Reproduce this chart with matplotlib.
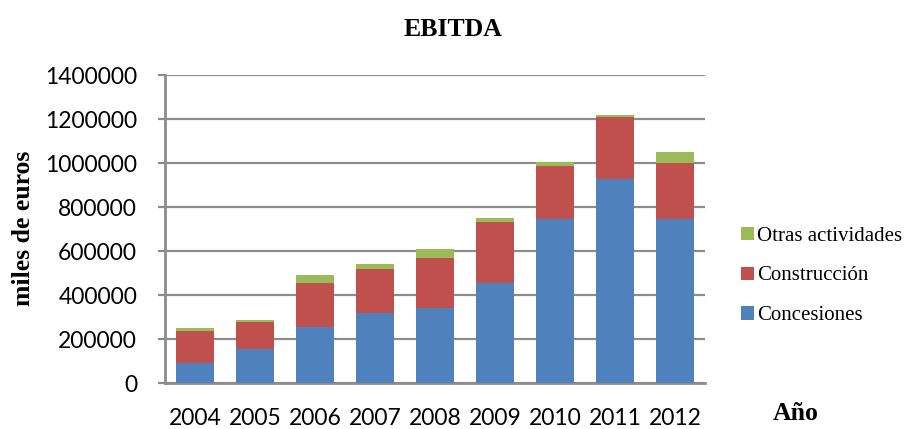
import numpy as np
import matplotlib
matplotlib.use("Agg")
import matplotlib.pyplot as plt
from matplotlib.ticker import FuncFormatter

# EBITDA by business line, thousands of euros
years = ["2004", "2005", "2006", "2007", "2008", "2009", "2010", "2011", "2012"]
concesiones = [92000, 154000, 255000, 318000, 343000, 456000, 746000, 927000, 746000]
construccion = [145000, 124000, 201000, 202000, 226000, 277000, 239000, 284000, 252000]
otras = [11000, 7000, 33000, 22000, 38000, 15000, 18000, 6000, 53000]

series = ["Concesiones", "Construcción", "Otras actividades"]
colors = ["#4F81BD", "#C0504D", "#9BBB59"]

fig = plt.figure(figsize=(9.07, 4.29), dpi=100)
ax = fig.add_axes([165 / 907, 46 / 429, 540 / 907, 308 / 429])

x = np.arange(len(years))
bottom = np.zeros(len(years))
handles = []
for name, vals, col in zip(series, [concesiones, construccion, otras], colors):
    h = ax.bar(x, vals, width=0.63, bottom=bottom, color=col, label=name,
               zorder=3, edgecolor="none")
    bottom += np.array(vals)
    handles.append(h)

ax.set_xlim(-0.5, len(years) - 0.5)
ax.set_ylim(0, 1400000)
ax.set_yticks(np.arange(0, 1400001, 200000))
ax.yaxis.set_major_formatter(FuncFormatter(lambda v, p: "%d" % v))
ax.set_xticks(x)
ax.set_xticklabels(years)
ax.yaxis.grid(True, color="#8C8C8C", linewidth=1.6, zorder=0)

for s in ["top", "right"]:
    ax.spines[s].set_visible(False)
for s in ["left", "bottom"]:
    ax.spines[s].set_color("#8C8C8C")
    ax.spines[s].set_linewidth(2)

ax.tick_params(axis="y", length=5, width=1.6, color="#8C8C8C", pad=15)
ax.tick_params(axis="x", length=0, pad=18)
for lab in ax.get_xticklabels() + ax.get_yticklabels():
    lab.set_fontfamily("Lato")
    lab.set_fontsize(16.5)

serif = "Liberation Serif"
fig.text(453 / 907, 1 - 29 / 429, "EBITDA", ha="center", va="center",
         fontfamily=serif, fontweight="bold", fontsize=18.5)
fig.text(24 / 907, 1 - 228 / 429, "miles de euros", ha="center", va="center",
         rotation=90, fontfamily=serif, fontweight="bold", fontsize=18.5)
fig.text(796 / 907, 1 - 413 / 429, "Año", ha="center", va="center",
         fontfamily=serif, fontweight="bold", fontsize=18.5)

leg = fig.legend(handles[::-1], series[::-1], loc="center left",
                 bbox_to_anchor=(733 / 907, 1 - 276 / 429), frameon=False,
                 prop={"family": serif, "size": 15}, handlelength=0.6,
                 handleheight=0.6, handletextpad=0.15, labelspacing=1.0,
                 borderaxespad=0)

fig.savefig("out.png", dpi=100)
